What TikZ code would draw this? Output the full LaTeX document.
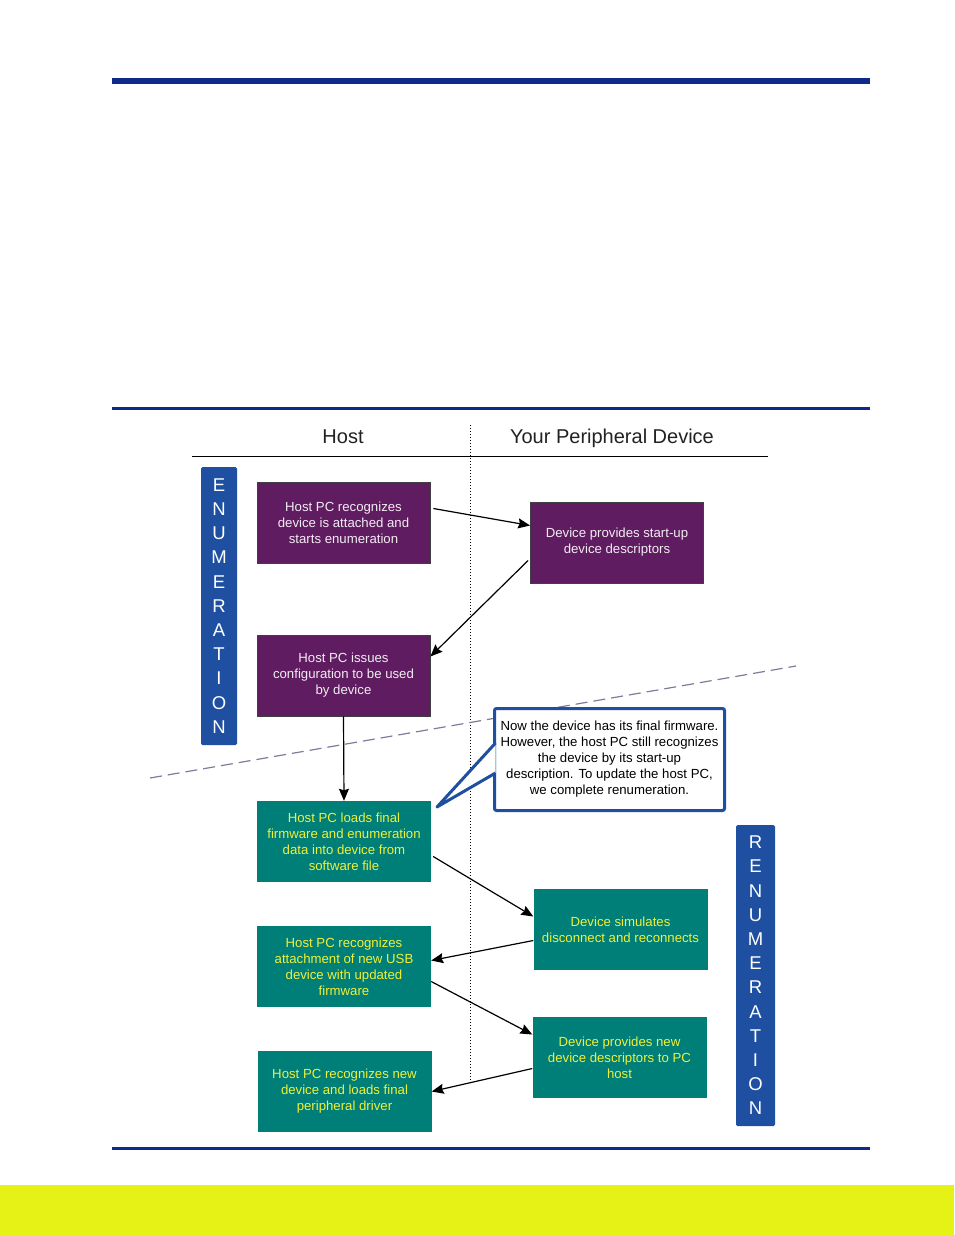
\documentclass[tikz,border=0pt]{standalone}
\usepackage{fontspec}
\setmainfont{Liberation Sans}
\definecolor{mNavy}{HTML}{0F2A88}
\definecolor{mLabelBlue}{HTML}{1F4FA0}
\definecolor{mPurple}{HTML}{601C60}
\definecolor{mTeal}{HTML}{007E78}
\definecolor{mLime}{HTML}{E6F215}
\definecolor{mYellowText}{HTML}{F0F03A}
\definecolor{mDashGray}{HTML}{7C7C9C}
\definecolor{mInk}{HTML}{222222}
\usepackage{tikz}
\usetikzlibrary{positioning,arrows.meta,calc}
\tikzset{
 flow/.style={-{Stealth[length=12pt,width=10pt,inset=1.5pt]}, black, line width=1.2pt},
 phaselabel/.style={fill=mLabelBlue, rounded corners=1.5pt, inner sep=0pt, text=white, align=center, font=\fontsize{18.5}{24.2}\selectfont},
 heading/.style={font=\fontsize{20}{22}\selectfont, text=mInk},
}
\newcommand{\flowbox}[5]{%
\ifnum#5=1
 \node[draw=black!75, line width=0.8pt, fill=mPurple, minimum width=173pt, minimum height=81pt, align=center, font=\fontsize{13.2}{16}\selectfont, text=white!92!mPurple] (#3) at (#1,#2) {#4};%
\else
 \node[fill=mTeal, minimum width=174pt, minimum height=81pt, align=center, font=\fontsize{13.2}{16}\selectfont, text=mYellowText] (#3) at (#1,#2) {#4};%
\fi}

\begin{document}
\begin{tikzpicture}[x=1pt,y=-1pt]
\useasboundingbox (0,0) rectangle (954,1235);
% page rules and footer band
\fill[mLime] (0,1185) rectangle (954,1235);
\draw[mNavy, line width=6pt] (112,80.5) -- (870,80.5);
\draw[mNavy, line width=3pt] (112,408.5) -- (870,408.5);
\draw[mNavy, line width=3pt] (112,1148) -- (870,1148);
% columns
\node[heading] (hhost) at (343,437) {Host};
\node[heading] (hdev) at (612,438) {Your Peripheral Device};
\draw[line width=0.8pt] (192,456.5) -- (768,456.5);
\draw[line width=0.7pt, dash pattern=on 1pt off 2pt] (470,425) -- (470,1080);
\draw[mDashGray, line width=1.2pt, dash pattern=on 12pt off 6pt] (150,778) -- (796,666);
% phase labels
\node[phaselabel, minimum width=36pt, minimum height=278pt] (enum) at (219,606) {E\\N\\U\\M\\E\\R\\A\\T\\I\\O\\N};
\node[phaselabel, minimum width=39pt, minimum height=301pt] (renum) at (755.5,975.5) {R\\E\\N\\U\\M\\E\\R\\A\\T\\I\\O\\N};
% boxes
\flowbox{343.5}{522.5}{hostsees}{Host PC recognizes\\device is attached and\\starts enumeration}{1}
\flowbox{617}{542.5}{startdesc}{Device provides start-up\\device descriptors}{1}
\flowbox{343.5}{675.5}{issuecfg}{Host PC issues\\configuration to be used\\by device}{1}
\flowbox{344}{841.5}{loadfw}{Host PC loads final\\firmware and enumeration\\data into device from\\software file}{2}
\flowbox{620.5}{929.5}{simdisc}{Device simulates\\disconnect and reconnects}{2}
\flowbox{344}{966.5}{newusb}{Host PC recognizes\\attachment of new USB\\device with updated\\firmware}{2}
\flowbox{619.5}{1057.5}{newdesc}{Device provides new\\device descriptors to PC\\host}{2}
\flowbox{344.5}{1091.5}{loaddrv}{Host PC recognizes new\\device and loads final\\peripheral driver}{2}
% callout
\node[draw=mLabelBlue, line width=3pt, fill=white, rounded corners=2pt, minimum width=230pt, minimum height=102pt, align=center, font=\fontsize{13.2}{16}\selectfont] (note) at (609.5,759.5) {Now the device has its final firmware.\\However, the host PC still recognizes\\the device by its start-up\\description. To update the host PC,\\we complete renumeration.};
\coordinate (tip) at (437,807);
\draw[mLabelBlue, line width=3pt, fill=white, line join=round] ([xshift=2.5pt,yshift=16.5pt]note.west) -- (tip) -- ([xshift=2.5pt,yshift=-13.5pt]note.west);
% connectors
\draw[flow] ([xshift=3pt,yshift=14pt]hostsees.east) -- ([yshift=17pt]startdesc.west);
\draw[flow] ([xshift=-2pt,yshift=-18pt]startdesc.west) -- ([yshift=19pt]issuecfg.east);
\draw[flow] (issuecfg.south) -- (loadfw.north);
\draw[flow] ([xshift=2pt,yshift=-15pt]loadfw.east) -- ([yshift=13pt]simdisc.west);
\draw[flow] ([yshift=-11pt]simdisc.west) -- ([yshift=6pt]newusb.east);
\draw[flow] ([yshift=-15pt]newusb.east) -- ([yshift=23pt]newdesc.west);
\draw[flow] ([yshift=-11pt]newdesc.west) -- (loaddrv.east);
\end{tikzpicture}
\end{document}
